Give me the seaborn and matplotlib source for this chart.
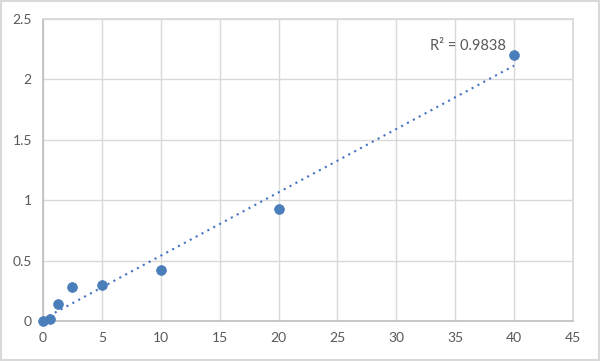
import numpy as np
import pandas as pd
import matplotlib
matplotlib.use("Agg")
import matplotlib.pyplot as plt
import seaborn as sns

# Standard curve points
concentration = [0, 0.625, 1.25, 2.5, 5, 10, 20, 40]
od_value = [0.0, 0.02, 0.14, 0.28, 0.30, 0.42, 0.93, 2.20]
r2_label = "R² = 0.9838"

x_ticks = [0, 5, 10, 15, 20, 25, 30, 35, 40, 45]
y_ticks = [0, 0.5, 1, 1.5, 2, 2.5]

data = pd.DataFrame({"conc": concentration, "od": od_value})

sns.set_theme(style="white")
plt.rcParams["font.family"] = ["Lato", "DejaVu Sans"]

fig = plt.figure(figsize=(6, 3.61), dpi=100)
ax = fig.add_axes([0.0717, 0.111, 0.8833, 0.836])

# Outer chart border
fig.patches.append(plt.Rectangle((0.002, 0.003), 0.996, 0.994, transform=fig.transFigure,
                                 fill=False, edgecolor="#d9d9d9", linewidth=1.5))

# Linear trendline
slope, intercept = np.polyfit(data["conc"], data["od"], 1)
xs = np.array([min(concentration), max(concentration)])
ax.plot(xs, slope * xs + intercept, linestyle=(0, (1, 2.2)), color="#4472c4",
        linewidth=1.5, zorder=2)

sns.scatterplot(data=data, x="conc", y="od", ax=ax, color="#4a7ebb", s=50,
                edgecolor="#4a7ebb", linewidth=0.5, zorder=3, clip_on=False)

ax.text(39.3, 2.28, r2_label, ha="right", va="center", fontsize=10.5, color="#595959")

ax.set_xlim(0, 45)
ax.set_ylim(0, 2.5)
ax.set_xticks(x_ticks)
ax.set_yticks(y_ticks)
ax.set_xticklabels([str(t) for t in x_ticks])
ax.set_yticklabels([str(t) for t in y_ticks])
ax.set_xlabel("")
ax.set_ylabel("")
ax.grid(True, color="#d9d9d9", linewidth=1)
ax.set_axisbelow(True)
for side in ["top", "right"]:
    ax.spines[side].set_color("#d9d9d9")
for side in ["left", "bottom"]:
    ax.spines[side].set_color("#bfbfbf")
    ax.spines[side].set_linewidth(1.2)
ax.tick_params(axis="both", length=0, labelsize=10, labelcolor="#595959", pad=8)

fig.savefig("out.png", dpi=100)
plt.close(fig)
